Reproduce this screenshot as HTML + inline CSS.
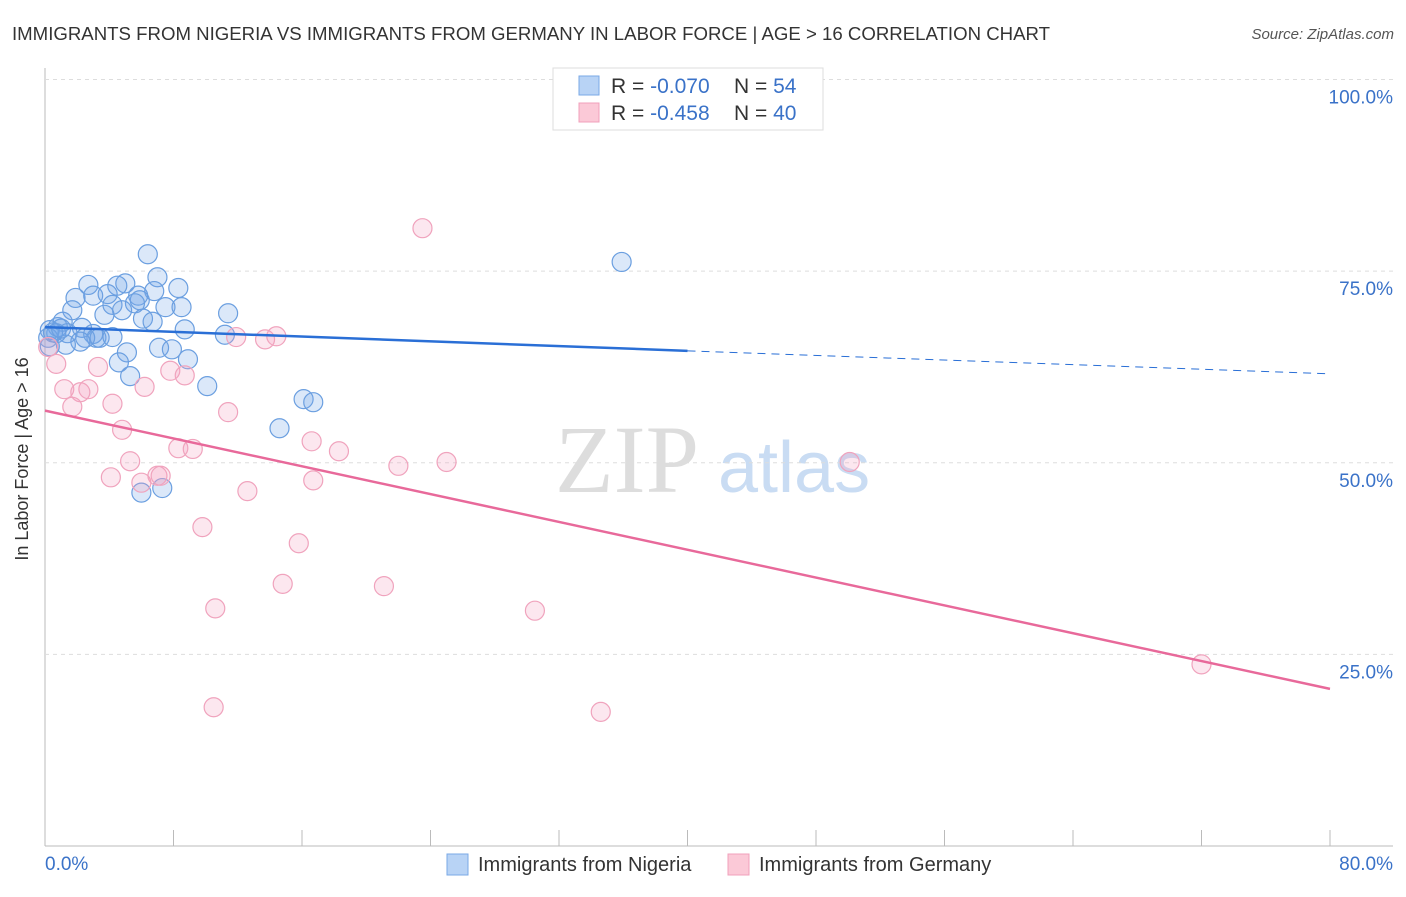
<!DOCTYPE html>
<html><head><meta charset="utf-8"><style>
body{margin:0;background:#fff;font-family:"Liberation Sans",sans-serif;}
</style></head><body>
<svg id="chart" width="1406" height="892" xmlns="http://www.w3.org/2000/svg">
<text x="12" y="40" font-size="18" fill="#333" textLength="1038" lengthAdjust="spacingAndGlyphs">IMMIGRANTS FROM NIGERIA VS IMMIGRANTS FROM GERMANY IN LABOR FORCE | AGE &gt; 16 CORRELATION CHART</text>
<text x="1394" y="39" font-size="15" fill="#555" font-style="italic" text-anchor="end">Source: ZipAtlas.com</text>
<g>
<text x="555" y="492" font-size="96" fill="#ddd" font-family="Liberation Serif,serif">ZIP</text>
<text x="718" y="492" font-size="72" fill="#c9dcf3">atlas</text>
</g>
<g id="grid"></g>
<g id="pts"></g>
<g id="lines"></g>
<text x="24" y="455" font-size="18" fill="#333" text-anchor="middle" transform="rotate(-90 28 455)">In Labor Force | Age &gt; 16</text>
<text x="45" y="870" font-size="19" fill="#3a72c8">0.0%</text>
<text x="1393" y="870" font-size="19" fill="#3a72c8" text-anchor="end">80.0%</text>
<g>
<rect x="553" y="68" width="270" height="62" fill="#fff" stroke="#ddd"/>
<rect x="579" y="76" width="20" height="19" fill="#b8d3f5" stroke="#7aa8e6"/>
<rect x="579" y="103" width="20" height="19" fill="#fbc9d7" stroke="#f0a0bb"/>
<text x="611" y="93" font-size="21" fill="#333">R = <tspan fill="#3a72c8">-0.070</tspan><tspan x="734">N = </tspan><tspan fill="#3a72c8">54</tspan></text>
<text x="611" y="120" font-size="21" fill="#333">R = <tspan fill="#3a72c8"> -0.458</tspan><tspan x="734">N = </tspan><tspan fill="#3a72c8">40</tspan></text>
</g>
<g>
<rect x="447" y="854" width="21" height="21" fill="#b8d3f5" stroke="#7aa8e6"/>
<text x="478" y="871" font-size="20" fill="#333">Immigrants from Nigeria</text>
<rect x="728" y="854" width="21" height="21" fill="#fbc9d7" stroke="#f0a0bb"/>
<text x="759" y="871" font-size="20" fill="#333">Immigrants from Germany</text>
</g>
</svg>
<script>
const yTicks=[25,50,75,100];
const yTickLabels=["25.0%","50.0%","75.0%","100.0%"];
const xTicks=[0,8,16,24,32,40,48,56,64,72,80];
const nigeriaX=[6.4,35.9,7.0,2.7,5.0,4.5,8.3,6.8,1.9,3.0,3.9,5.8,5.9,5.6,4.2,7.5,8.5,4.8,1.7,3.7,11.4,6.1,6.7,1.1,8.7,0.8,2.3,0.3,1.4,3.0,3.2,2.5,11.2,0.2,2.2,1.3,0.3,7.1,7.9,5.1,8.9,4.6,5.3,10.1,16.1,16.7,14.6,6.0,7.3,3.4,4.2,0.7,0.5,1.0];
const nigeriaY=[77.2,76.2,74.2,73.2,73.4,73.1,72.8,72.4,71.5,71.8,72.0,71.8,71.2,70.8,70.6,70.3,70.3,69.9,69.9,69.3,69.5,68.8,68.4,68.4,67.4,67.7,67.6,67.3,66.9,66.8,66.3,66.3,66.7,66.3,65.8,65.4,65.2,65.0,64.8,64.4,63.5,63.1,61.3,60.0,58.3,57.9,54.5,46.1,46.7,66.3,66.4,66.9,67.0,67.5];
const germanyX=[23.5,0.2,0.7,11.9,13.7,14.4,3.3,7.8,8.7,1.2,2.7,2.2,6.2,1.7,4.2,11.4,4.8,16.6,8.3,9.2,18.3,5.3,22.0,25.0,50.1,4.1,7.0,7.2,16.7,6.0,12.6,9.8,15.8,14.8,21.1,10.6,30.5,10.5,34.6,72.0];
const germanyY=[80.6,65.1,62.9,66.4,66.1,66.5,62.5,62.0,61.4,59.6,59.6,59.2,59.9,57.3,57.7,56.6,54.3,52.8,51.9,51.8,51.5,50.2,49.6,50.1,50.1,48.1,48.3,48.3,47.7,47.4,46.3,41.6,39.5,34.2,33.9,31.0,30.7,18.1,17.5,23.7];
const nigeriaTrendX=[0,40,80];
const nigeriaTrendY=[67.7,64.6,61.6];
const germanyTrendX=[0,80];
const germanyTrendY=[56.8,20.5];

const NS="http://www.w3.org/2000/svg";
const sx=v=>45+v*(1285/80);
const sy=v=>846-v*7.665;
function mk(tag,attrs,parent){const e=document.createElementNS(NS,tag);for(const k in attrs)e.setAttribute(k,attrs[k]);parent.appendChild(e);return e;}
const grid=document.getElementById('grid');
let ax=mk('line',{x1:45,y1:68,x2:45,y2:846,stroke:'#bbb'},grid);


let bx=mk('line',{x1:45,y1:846,x2:1393,y2:846,stroke:'#bbb'},grid);


yTicks.forEach((t,i)=>{
 const g=mk('line',{x1:45,y1:sy(t),x2:1393,y2:sy(t),stroke:'#ddd','stroke-dasharray':'4,4'},grid);
 
 
 const tx=mk('text',{x:1393,y:sy(t)+24,'font-size':19,fill:'#3a72c8','text-anchor':'end'},grid);
 tx.textContent=yTickLabels[i];
 
 
});
xTicks.forEach(t=>{
 const l=mk('line',{x1:sx(t),y1:830,x2:sx(t),y2:846,stroke:'#bbb'},grid);
 
 
});
const pts=document.getElementById('pts');
nigeriaX.forEach((x,i)=>{
 const c=mk('circle',{cx:sx(x),cy:sy(nigeriaY[i]),r:9.5,fill:'rgba(110,165,230,0.25)',stroke:'#6b9fe0','stroke-width':1.2},pts);
 
 
});
germanyX.forEach((x,i)=>{
 const c=mk('circle',{cx:sx(x),cy:sy(germanyY[i]),r:9.5,fill:'rgba(245,160,190,0.25)',stroke:'#f0a3bd','stroke-width':1.2},pts);
 
 
});
const lines=document.getElementById('lines');
let l1=mk('line',{x1:sx(nigeriaTrendX[0]),y1:sy(nigeriaTrendY[0]),x2:sx(nigeriaTrendX[1]),y2:sy(nigeriaTrendY[1]),stroke:'#2a6fd6','stroke-width':2.5},lines);


let l2=mk('line',{x1:sx(nigeriaTrendX[1]),y1:sy(nigeriaTrendY[1]),x2:sx(nigeriaTrendX[2]),y2:sy(nigeriaTrendY[2]),stroke:'#2a6fd6','stroke-width':1,'stroke-dasharray':'8,6'},lines);


let l3=mk('line',{x1:sx(germanyTrendX[0]),y1:sy(germanyTrendY[0]),x2:sx(germanyTrendX[1]),y2:sy(germanyTrendY[1]),stroke:'#e8699a','stroke-width':2.5},lines);


</script>
</body></html>
